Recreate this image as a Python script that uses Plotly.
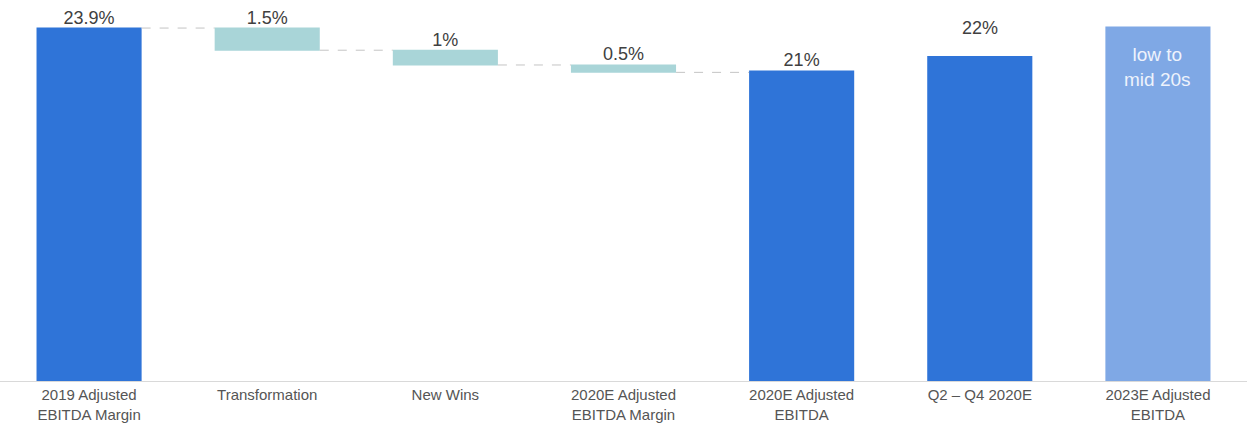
import plotly.graph_objects as go

# ---- data ----
categories = [
    "2019 Adjusted<br>EBITDA Margin",
    "Transformation",
    "New Wins",
    "2020E Adjusted<br>EBITDA Margin",
    "2020E Adjusted<br>EBITDA",
    "Q2 – Q4 2020E",
    "2023E Adjusted<br>EBITDA",
]
bridge_values = [23.9, -1.5, -1.0, -0.5, 21.0]
bridge_measure = ["absolute", "relative", "relative", "relative", "absolute"]
outlook_values = [22.0, 24.0]
value_labels = ["23.9%", "1.5%", "1%", "0.5%", "21%", "22%"]
outlook_note = "low to<br>mid 20s"

DARK = "#2F74D8"
TEAL = "#A9D5D8"
LIGHT = "#7FA8E5"
TXT = "#404040"
FONT = "Liberation Sans, Arial, sans-serif"
BW = 0.59

# tops of each bar (for label placement)
tops = []
level = 0.0
for v, m in zip(bridge_values, bridge_measure):
    if m == "absolute":
        level = v
        tops.append(v)
    else:
        tops.append(level)
        level += v
tops += outlook_values

fig = go.Figure()
fig.add_trace(go.Waterfall(
    x=categories[:5], y=bridge_values, measure=bridge_measure,
    width=[BW] * 5,
    totals=dict(marker=dict(color=DARK)),
    decreasing=dict(marker=dict(color=TEAL)),
    increasing=dict(marker=dict(color=TEAL)),
    connector=dict(line=dict(color="#C4C4C4", width=1, dash="dash")),
    hoverinfo="skip", showlegend=False,
))
fig.add_trace(go.Bar(
    x=categories[5:], y=outlook_values, width=[BW, BW],
    marker=dict(color=[DARK, LIGHT], line=dict(width=0)),
    hoverinfo="skip", showlegend=False,
))
fig.add_trace(go.Scatter(
    x=categories[:5], y=tops[:5], mode="text", text=value_labels[:5],
    textposition="top center", textfont=dict(size=18, color=TXT, family=FONT),
    cliponaxis=False, hoverinfo="skip", showlegend=False,
))
fig.add_annotation(
    x=categories[5], y=outlook_values[0], text=value_labels[5], showarrow=False,
    yanchor="bottom", yshift=16, font=dict(size=18, color=TXT, family=FONT),
)
fig.add_annotation(
    x=categories[6], y=outlook_values[1], text=outlook_note, showarrow=False,
    yanchor="top", yshift=-15, font=dict(size=19, color="#EEF3FC", family=FONT),
)

fig.update_layout(
    width=1247, height=432,
    margin=dict(l=0, r=0, t=0, b=51),
    plot_bgcolor="white", paper_bgcolor="white",
    barmode="overlay",
    font=dict(family=FONT, color=TXT),
    xaxis=dict(
        categoryorder="array", categoryarray=categories,
        showline=True, linecolor="#D9D9D9", linewidth=1,
        showgrid=False, zeroline=False, ticks="",
        tickfont=dict(size=15, color="#555555", family=FONT),
        range=[-0.5, 6.5],
    ),
    yaxis=dict(range=[0, 25.8], visible=False, showgrid=False, zeroline=False),
)

fig.write_html("out.html")
